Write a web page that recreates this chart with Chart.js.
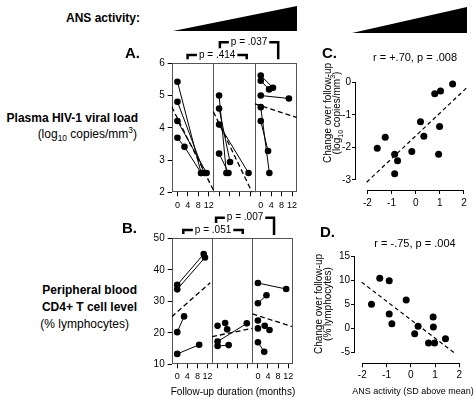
<!DOCTYPE html>
<html>
<head>
<meta charset="utf-8">
<script src="https://cdn.jsdelivr.net/npm/chart.js@4.4.1/dist/chart.umd.min.js"></script>
<style>
  body { margin: 0; background: #fff; }
  #fig { position: relative; width: 474px; height: 400px; overflow: hidden; font-family: Arial, "Liberation Sans", sans-serif; color: #000; }
  #fig canvas, .t, .tri { position: absolute; }
  .t { white-space: nowrap; line-height: 1; }
  .b { font-weight: bold; }
  .c { transform: translateX(-50%); }
  .tri { background: #000; clip-path: polygon(0 100%, 100% 0, 100% 100%); }
  .yt { font-size: 10px; line-height: 8.5px; text-align: center; transform: translate(-50%, -50%) rotate(-90deg); }
  sub, sup { font-size: 70%; line-height: 0; }
</style>
</head>
<body>
<div id="fig">
  <div class="t b" style="left:66px;top:12px;font-size:12px">ANS activity:</div>
  <div class="tri" style="left:173px;top:6px;width:124px;height:25px"></div>
  <div class="tri" style="left:352px;top:7px;width:115px;height:26px"></div>

  <div class="t b" style="right:336px;top:112px;font-size:12px">Plasma HIV-1 viral load</div>
  <div class="t" style="right:337px;top:128px;font-size:12px">(log<sub>10</sub> copies/mm<sup>3</sup>)</div>
  <div class="t b" style="right:337px;top:284px;font-size:12px">Peripheral blood</div>
  <div class="t b" style="right:337px;top:301px;font-size:12px">CD4+ T cell level</div>
  <div class="t" style="right:345px;top:318px;font-size:12px">(% lymphocytes)</div>

  <canvas id="chartA" width="180" height="185" style="left:125px;top:30px"></canvas>
  <canvas id="chartB" width="180" height="200" style="left:125px;top:200px"></canvas>
  <canvas id="chartC" width="144" height="175" style="left:330px;top:40px"></canvas>
  <canvas id="chartD" width="144" height="175" style="left:330px;top:225px"></canvas>

  <div class="t b" style="left:125px;top:45px;font-size:15px">A.</div>
  <div class="t b" style="left:122px;top:220px;font-size:15px">B.</div>
  <div class="t b" style="left:322px;top:45px;font-size:15px">C.</div>
  <div class="t b" style="left:320px;top:224px;font-size:15px">D.</div>
  <div class="t c" style="left:415px;top:52px;font-size:11px">r = +.70, p = .008</div>
  <div class="t c" style="left:415px;top:238px;font-size:11px">r = -.75, p = .004</div>
  <div class="t c" style="left:233px;top:387px;font-size:10px">Follow-up duration (months)</div>
  <div class="t c" style="left:413px;top:387px;font-size:9px">ANS activity (SD above mean)</div>
  <div class="t yt" style="left:332px;top:113px">Change over follow-up<br>(log<sub>10</sub> copies/mm<sup>3</sup>)</div>
  <div class="t yt" style="left:323px;top:304px">Change over follow-up<br>(% lymphocytes)</div>
</div>

<script>
Chart.defaults.font.family = 'Arial, "Liberation Sans", sans-serif';
Chart.defaults.font.size = 10;
Chart.defaults.color = '#000';

// Panels A/B: one [month, value] list per subject, grouped by ANS level (low, mid, high)
const loadLow = [
  [[0, 5.43], [9.1, 2.60]],
  [[0, 4.81], [10.3, 2.60]],
  [[0, 4.21], [11.2, 2.60]],
  [[0, 3.69], [2.7, 3.41], [9.1, 2.60]]
];
const loadMid = [
  [[0, 5.00], [2.8, 2.60]],
  [[0, 4.60], [4.2, 2.94]],
  [[0, 4.10], [11.3, 2.60]],
  [[0, 3.20], [3.6, 2.60]]
];
const loadHigh = [
  [[0, 5.62], [4.7, 5.24]],
  [[0, 5.46], [3.2, 5.19]],
  [[0, 5.00], [10.8, 4.91]],
  [[0, 4.64], [3.3, 2.60]],
  [[0, 4.21], [2.8, 3.28]]
];
// dashed group trends, [month, value] at both ends
const loadTrend = [
  [[-2.2, 4.65], [13.8, 2.07]],
  [[-2.2, 4.50], [13.8, 1.81]],
  [[-2.2, 4.74], [13.8, 4.32]]
];

const cd4Low = [
  [[0, 35.2], [10.5, 45.0]],
  [[0, 33.8], [11.0, 43.9]],
  [[0, 20.2], [2.7, 25.2]],
  [[0, 13.3], [8.7, 16.2]]
];
const cd4Mid = [
  [[0, 22.2]],
  [[3.0, 23.1], [3.8, 21.1]],
  [[0, 17.2], [11.6, 23.0]],
  [[0, 15.8], [4.4, 16.1]]
];
const cd4High = [
  [[0, 35.8], [11.2, 33.9]],
  [[0, 29.4], [3.4, 31.9]],
  [[0, 23.9]],
  [[0, 21.4]],
  [[2.7, 22.2], [4.6, 20.9]],
  [[0, 17.0], [2.5, 14.0]]
];
const cd4Trend = [
  [[-2.2, 25.1], [13.1, 35.9]],
  [[-2.2, 18.8], [13.8, 21.4]],
  [[-2.2, 26.0], [13.5, 22.0]]
];

const monthTicks = [0, 4, 8, 12];
const labelledGroups = [true, false, true];
const loadTicks = [2, 3, 4, 5, 6];
const cd4Ticks = [10, 20, 30, 40, 50];

// Panels C/D: ANS activity score vs change over follow-up
const ansC = [1.53, 1.03, 0.79, 0.20, 0.99, 0.34, -1.26, -1.59, -0.16, -0.87, -0.75, 0.95, -0.87];
const loadChange = [-0.05, -0.27, -0.35, -1.21, -1.36, -1.66, -1.69, -2.03, -2.13, -2.21, -2.41, -2.21, -2.81];
const loadFit = [[-2.03, -3.07], [2.14, -0.15]];

const ansD = [-1.28, -0.89, -1.62, -0.19, -0.89, -0.78, 0.30, 0.92, 0.93, 0.16, 1.43, 0.73, 0.98];
const cd4Change = [10.4, 9.9, 5.0, 5.9, 3.0, 1.0, 0.45, 2.4, 0.3, -1.07, -2.1, -3.0, -3.0];
const cd4Fit = [[-2.03, 9.6], [1.86, -5.3]];

const ansTicks = [-2, -1, 0, 1, 2];
const loadChangeTicks = [-3, -2, -1, 0];
const cd4ChangeTicks = [-5, 0, 5, 10, 15];

// each ANS group gets its own strip on a shared x scale, months -2.2 .. 13.8
const GROUP_SPAN = 16, MONTH_SHIFT = 2.2;
const groupX = (k, m) => k * GROUP_SPAN + m + MONTH_SHIFT;

const dot = { pointRadius: 3.3, pointHoverRadius: 3.3, pointBackgroundColor: '#000', pointBorderWidth: 0 };
const axisGrid = { drawOnChartArea: false, drawTicks: true, tickLength: 4, color: '#000', lineWidth: 1 };
const fixedTicks = vals => s => { s.ticks = vals.map(v => ({ value: v })); };

function followupSets(groups, trend) {
  const sets = [];
  groups.forEach((subjects, k) => subjects.forEach(s => sets.push({
    data: s.map(([m, v]) => ({ x: groupX(k, m), y: v })),
    showLine: true, borderColor: '#000', borderWidth: 1, ...dot
  })));
  trend.forEach((t, k) => sets.push({
    data: t.map(([m, v]) => ({ x: groupX(k, m), y: v })),
    showLine: true, borderColor: '#000', borderWidth: 1.3, borderDash: [5, 3], pointRadius: 0
  }));
  return sets;
}

// frame, strip dividers and the p-value brackets above the strips
const stripBox = {
  id: 'stripBox',
  beforeDatasetsDraw(chart) {
    const { ctx, chartArea: a, scales: { x } } = chart;
    ctx.save();
    ctx.strokeStyle = '#555';
    ctx.lineWidth = 1;
    ctx.strokeRect(Math.round(a.left) + 0.5, Math.round(a.top) + 0.5, Math.round(a.width) - 1, Math.round(a.height) - 1);
    ctx.beginPath();
    [1, 2].forEach(k => {
      const px = Math.round(x.getPixelForValue(k * GROUP_SPAN)) + 0.5;
      ctx.moveTo(px, a.top);
      ctx.lineTo(px, a.bottom);
    });
    ctx.stroke();
    ctx.restore();
  },
  afterDraw(chart, args, opts) {
    const { ctx, chartArea: a, scales: { x } } = chart;
    ctx.save();
    ctx.font = '10px Arial, "Liberation Sans", sans-serif';
    ctx.textAlign = 'center';
    ctx.textBaseline = 'middle';
    opts.brackets.forEach(b => {
      const x0 = x.getPixelForValue(b.from), x1 = x.getPixelForValue(b.to);
      const yTop = a.top - b.rise;
      ctx.strokeStyle = '#000';
      ctx.lineWidth = 2.5;
      ctx.beginPath();
      ctx.moveTo(x0, yTop + b.legL);
      ctx.lineTo(x0, yTop);
      ctx.lineTo(x1, yTop);
      ctx.lineTo(x1, yTop + b.legR);
      ctx.stroke();
      const cx = (x0 + x1) / 2, w = ctx.measureText(b.text).width;
      ctx.fillStyle = '#fff';
      ctx.fillRect(cx - w / 2 - 2, yTop - 3, w + 4, 6);
      ctx.fillStyle = '#000';
      ctx.fillText(b.text, cx, yTop);
    });
    ctx.restore();
  }
};

// detached axis lines spanning only the labelled tick range
const rAxes = {
  id: 'rAxes',
  afterDraw(chart, args, opts) {
    const { ctx, chartArea: a, scales: { x, y } } = chart;
    const by = Math.round(a.bottom) + 0.5, lx = Math.round(a.left) - 0.5;
    ctx.save();
    ctx.strokeStyle = '#000';
    ctx.lineWidth = 1;
    ctx.beginPath();
    ctx.moveTo(x.getPixelForValue(opts.x[0]), by);
    ctx.lineTo(x.getPixelForValue(opts.x[1]), by);
    ctx.moveTo(lx, y.getPixelForValue(opts.y[0]));
    ctx.lineTo(lx, y.getPixelForValue(opts.y[1]));
    ctx.stroke();
    ctx.restore();
  }
};

function stripChart(id, groups, trend, yTicks, geo, brackets) {
  const tickVals = [0, 1, 2].flatMap(k => monthTicks.map(m => groupX(k, m)));
  return new Chart(document.getElementById(id), {
    type: 'scatter',
    data: { datasets: followupSets(groups, trend) },
    options: {
      responsive: false, animation: false, events: [],
      layout: { padding: { top: geo.top, right: geo.right, left: 0, bottom: 0 } },
      plugins: { legend: { display: false }, tooltip: { enabled: false }, stripBox: { brackets } },
      scales: {
        x: {
          type: 'linear', min: 0, max: 3 * GROUP_SPAN,
          afterBuildTicks: fixedTicks(tickVals),
          afterFit: s => { s.height = geo.bottom; },
          ticks: {
            autoSkip: false, maxRotation: 0, padding: geo.tickPad, font: { size: 9 },
            callback: (v, i) => labelledGroups[Math.floor(i / monthTicks.length)] ? String(monthTicks[i % monthTicks.length]) : ''
          },
          grid: axisGrid, border: { display: false }
        },
        y: {
          min: yTicks[0], max: yTicks[yTicks.length - 1],
          afterBuildTicks: fixedTicks(yTicks),
          afterFit: s => { s.width = geo.left; },
          ticks: { padding: 3 },
          grid: axisGrid, border: { display: false }
        }
      }
    },
    plugins: [stripBox]
  });
}

function corrChart(id, xs, ys, fit, xTicks, yTicks, geo) {
  return new Chart(document.getElementById(id), {
    type: 'scatter',
    data: {
      datasets: [
        { data: xs.map((v, i) => ({ x: v, y: ys[i] })), ...dot, pointRadius: 3.5 },
        { data: fit.map(([x, y]) => ({ x, y })), showLine: true, borderColor: '#000', borderWidth: 1.2, borderDash: [4, 3], pointRadius: 0 }
      ]
    },
    options: {
      responsive: false, animation: false, events: [],
      layout: { padding: { top: geo.top, right: geo.right, left: 0, bottom: 0 } },
      plugins: {
        legend: { display: false }, tooltip: { enabled: false },
        rAxes: { x: [xTicks[0], xTicks[xTicks.length - 1]], y: [yTicks[0], yTicks[yTicks.length - 1]] }
      },
      scales: {
        x: {
          type: 'linear', min: geo.xMin, max: geo.xMax,
          afterBuildTicks: fixedTicks(xTicks),
          afterFit: s => { s.height = geo.bottom; },
          ticks: { autoSkip: false, maxRotation: 0, padding: geo.tickPad },
          grid: axisGrid, border: { display: false }
        },
        y: {
          min: geo.yMin, max: geo.yMax,
          afterBuildTicks: fixedTicks(yTicks),
          afterFit: s => { s.width = geo.left; },
          ticks: { padding: 1 },
          grid: axisGrid, border: { display: false }
        }
      }
    },
    plugins: [rAxes]
  });
}

stripChart('chartA', [loadLow, loadMid, loadHigh], loadTrend, loadTicks,
  { left: 46.7, top: 33.3, right: 8.3, bottom: 22.7, tickPad: 3.5 },
  [
    { from: 6.1, to: 28.8, rise: 8.3, legL: 4.3, legR: 4.3, text: 'p = .414' },
    { from: 18.5, to: 40.9, rise: 21, legL: 6, legR: 17, text: 'p = .037' }
  ]);

stripChart('chartB', [cd4Low, cd4Mid, cd4High], cd4Trend, cd4Ticks,
  { left: 46.7, top: 38.3, right: 12.3, bottom: 35.7, tickPad: 3 },
  [
    { from: 4.6, to: 28.2, rise: 8.3, legL: 4, legR: 4, text: 'p = .051' },
    { from: 17.6, to: 40.6, rise: 20.6, legL: 5.3, legR: 17.3, text: 'p = .007' }
  ]);

corrChart('chartC', ansC, loadChange, loadFit, ansTicks, loadChangeTicks,
  { left: 26, top: 35.8, right: 4, bottom: 25, xMin: -2.47, xMax: 2.25, yMin: -3.31, yMax: 0.2, tickPad: 3.5 });

corrChart('chartD', ansD, cd4Change, cd4Fit, ansTicks, cd4ChangeTicks,
  { left: 25, top: 26.2, right: 4, bottom: 36.7, xMin: -2.30, xMax: 2.44, yMin: -7.19, yMax: 16, tickPad: 2 });
</script>
</body>
</html>
